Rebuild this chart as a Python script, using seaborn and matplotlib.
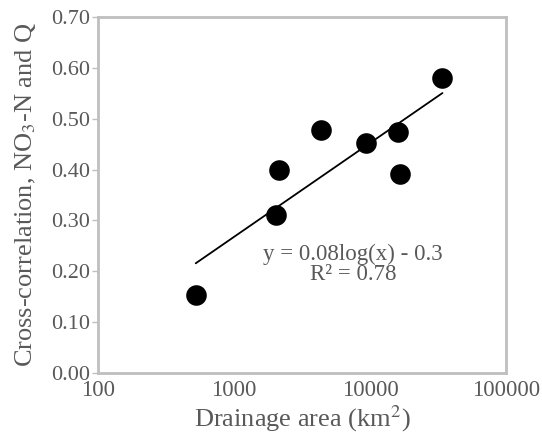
import numpy as np
import pandas as pd
import seaborn as sns
import matplotlib.pyplot as plt
from matplotlib.ticker import FixedLocator, FixedFormatter

# Data
drainage_area = [523, 2050, 2150, 4340, 9330, 16100, 16700, 34100]
cross_corr = [0.153, 0.310, 0.399, 0.477, 0.453, 0.473, 0.391, 0.580]

x_ticks = [100, 1000, 10000, 100000]
x_tick_labels = ["100", "1000", "10000", "100000"]
y_ticks = [0.0, 0.1, 0.2, 0.3, 0.4, 0.5, 0.6, 0.7]

# Trendline label as printed on the chart
trend_label = ["y = 0.08log(x) - 0.3", "R² = 0.78"]

GRAY_TEXT = "#595959"
GRAY_AXIS = "#bfbfbf"


def main():
    sns.set_style("white")
    plt.rcParams["font.family"] = ["Liberation Serif", "DejaVu Serif"]
    plt.rcParams["mathtext.fontset"] = "stix"

    df = pd.DataFrame({"area": drainage_area, "cc": cross_corr})

    fig = plt.figure(figsize=(5.42, 4.44), dpi=100)
    ax = fig.add_axes([0.1808, 0.1599, 0.7528, 0.8018])

    # Logarithmic trendline, y = a ln(x) + b, fitted to the points
    a, b = np.polyfit(np.log(df["area"]), df["cc"], 1)
    xs = np.geomspace(df["area"].min(), df["area"].max(), 100)
    sns.lineplot(x=xs, y=a * np.log(xs) + b, color="black", linewidth=1.3, ax=ax)

    sns.scatterplot(data=df, x="area", y="cc", s=220, color="black",
                    edgecolor="black", linewidth=0, ax=ax, zorder=3)

    ax.set_xscale("log")
    ax.set_xlim(100, 100000)
    ax.set_ylim(0, 0.70)
    ax.xaxis.set_major_locator(FixedLocator(x_ticks))
    ax.xaxis.set_major_formatter(FixedFormatter(x_tick_labels))
    ax.xaxis.set_minor_locator(FixedLocator([]))
    ax.set_yticks(y_ticks)
    ax.set_yticklabels([f"{v:.2f}" for v in y_ticks])

    ax.tick_params(axis="x", length=0, pad=5, labelsize=16.5, labelcolor=GRAY_TEXT)
    ax.tick_params(axis="y", length=4, width=1, color=GRAY_AXIS, pad=2,
                   labelsize=16, labelcolor=GRAY_TEXT, left=True)

    for spine in ax.spines.values():
        spine.set_visible(True)
        spine.set_color(GRAY_AXIS)
        spine.set_linewidth(2)

    ax.set_xlabel("Drainage area (km$^2$)", fontsize=19, color=GRAY_TEXT, labelpad=2)
    ax.set_ylabel("Cross-correlation, NO$_3$-N and Q", fontsize=19,
                  color=GRAY_TEXT, labelpad=9)

    # Trendline equation, centred below the line
    ax.text(7500, 0.214, "\n".join(trend_label),
            ha="center", va="center", fontsize=16.5, color=GRAY_TEXT, linespacing=0.95)

    fig.savefig("out.png", dpi=100)


if __name__ == "__main__":
    main()
